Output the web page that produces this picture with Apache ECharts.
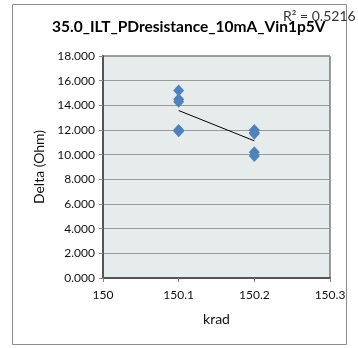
<!DOCTYPE html>
<html><head><meta charset="utf-8">
<script src="https://cdn.jsdelivr.net/npm/echarts@6/dist/echarts.min.js"></script>
<style>html,body{margin:0;padding:0;background:#fff}#c{width:358px;height:348px}</style>
</head><body><div id="c"></div>
<script>
const titleText = "35.0_ILT_PDresistance_10mA_Vin1p5V";
const r2Text = "R² = 0.5216";
const xName = "krad";
const yName = "Delta (Ohm)";
const xGroupA = [150.1, 150.1, 150.1, 150.1, 150.1];
const yGroupA = [15.2, 14.5, 14.3, 12.0, 11.9];
const xGroupB = [150.2, 150.2, 150.2, 150.2, 150.2];
const yGroupB = [12.0, 11.8, 11.7, 10.2, 9.9];

const xs = xGroupA.concat(xGroupB);
const ys = yGroupA.concat(yGroupB);
const pts = xs.map((x, i) => [x, ys[i]]);
const n = xs.length;
const mx = xs.reduce((a, b) => a + b, 0) / n;
const my = ys.reduce((a, b) => a + b, 0) / n;
let sxy = 0, sxx = 0;
for (let i = 0; i < n; i++) { sxy += (xs[i] - mx) * (ys[i] - my); sxx += (xs[i] - mx) ** 2; }
const slope = sxy / sxx, icpt = my - slope * mx;
const xmin = Math.min(...xs), xmax = Math.max(...xs);
const trend = [[xmin, icpt + slope * xmin], [xmax, icpt + slope * xmax]];

const font = "Lato, 'Open Sans', sans-serif";
const chart = echarts.init(document.getElementById('c'), null, {renderer: 'canvas'});
chart.setOption({
  animation: false,
  backgroundColor: '#fff',
  graphic: [
    {type: 'rect', shape: {x: 12.5, y: 4.5, width: 334, height: 340}, style: {fill: 'none', stroke: '#8c8c8c', lineWidth: 1}, z: -10},
    {type: 'text', left: 52, top: 19, style: {text: titleText, font: "bold 15.5px " + font, fill: '#000'}},
    {type: 'text', left: 283, top: 9, style: {text: r2Text, font: "14px " + font, fill: '#333'}}
  ],
  grid: {left: 103, right: 28, top: 56, bottom: 70, show: true, backgroundColor: '#E6ECEC', borderColor: '#3a3a3a', borderWidth: 1},
  xAxis: {
    type: 'value', min: 150, max: 150.3, interval: 0.1,
    name: xName, nameLocation: 'middle', nameGap: 34,
    nameTextStyle: {fontFamily: font, fontSize: 14, color: '#111'},
    axisLine: {show: true, lineStyle: {color: '#555', width: 2}},
    axisTick: {show: true, length: 4, lineStyle: {color: '#888'}},
    axisLabel: {fontFamily: font, fontSize: 12, color: '#111', margin: 11, formatter: v => String(Math.round(v * 10) / 10)},
    splitLine: {show: false}
  },
  yAxis: {
    type: 'value', min: 0, max: 18, interval: 2,
    name: yName, nameLocation: 'middle', nameGap: 56,
    nameTextStyle: {fontFamily: font, fontSize: 14, color: '#111'},
    axisLine: {show: true, lineStyle: {color: '#555', width: 2}},
    axisTick: {show: true, length: 4, lineStyle: {color: '#888'}},
    axisLabel: {fontFamily: font, fontSize: 12, color: '#111', margin: 8, formatter: v => v.toFixed(3)},
    splitLine: {show: true, lineStyle: {color: '#9a9a9a', width: 1}}
  },
  series: [
    {type: 'scatter', data: pts, symbol: 'diamond', symbolSize: [11, 12], itemStyle: {color: '#4F81BD', opacity: 1}, z: 3},
    {type: 'line', data: trend, symbol: 'none', lineStyle: {color: '#000', width: 1}, z: 4, silent: true}
  ]
});
</script></body></html>
